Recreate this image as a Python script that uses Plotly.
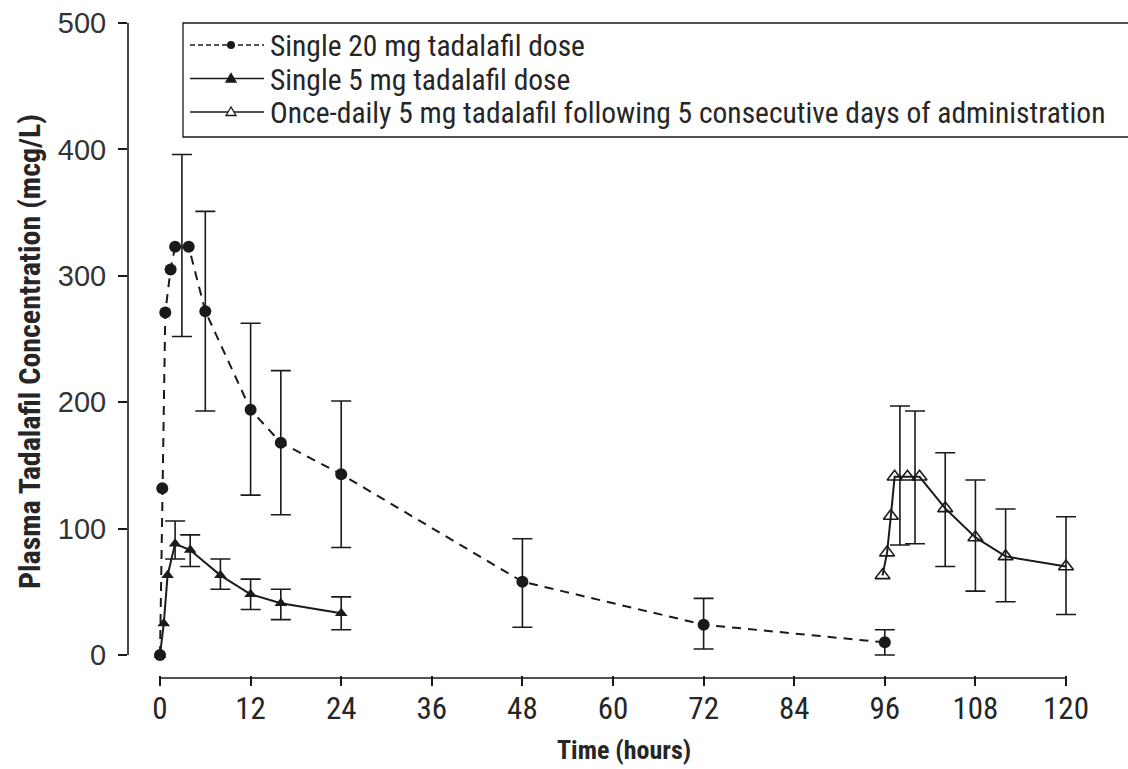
import plotly.graph_objects as go

# ---- data ----
# Single 20 mg tadalafil dose (filled circles, dashed)
t20 = [0, 0.3, 0.7, 1.4, 2, 3.8, 6, 12, 16, 24, 48, 72, 96]
c20 = [0, 132, 271, 305, 323, 323, 272, 194, 168, 143, 58, 24, 10]
err20_t = [2.9, 6, 12, 16, 24, 48, 72, 96]
err20_mean = [324, 272, 194.5, 168, 143, 57, 24.8, 10]
err20_sd = [72, 79, 68, 57, 58, 35, 20, 10]

# Single 5 mg tadalafil dose (filled triangles, solid)
t5 = [0, 0.5, 1, 2, 4, 8, 12, 16, 24]
c5 = [0, 25, 63, 88, 83, 63, 48, 41, 33]
err5_t = [2, 4, 8, 12, 16, 24]
err5_mean = [91, 82.5, 64, 48, 40, 33]
err5_sd = [15, 12.5, 12, 12, 12, 13]

# Once-daily 5 mg after 5 consecutive days (open triangles, solid)
tq = [95.7, 96.3, 96.8, 97.3, 99, 100.6, 104, 108, 112, 120]
cq = [63, 81, 110, 141, 141, 141, 116, 93, 78, 70]
errq_t = [98, 100, 104, 108, 112, 120]
errq_mean = [142, 140.5, 115, 94.5, 78.8, 70.7]
errq_sd = [55, 52.5, 45, 44, 36.7, 38.7]

x_ticks = [0, 12, 24, 36, 48, 60, 72, 84, 96, 108, 120]
y_ticks = [0, 100, 200, 300, 400, 500]

names = [
    "Single 20 mg tadalafil dose",
    "Single 5 mg tadalafil dose",
    "Once-daily 5 mg tadalafil following 5 consecutive days of administration",
]
x_title = "Time (hours)"
y_title = "Plasma Tadalafil Concentration (mcg/L)"

# ---- styling / layout ----
INK = "#1a1a1a"
TXT = "#262626"
NARROW = "Liberation Sans Narrow, Arial Narrow, Roboto Condensed, Liberation Sans, sans-serif"
W, H = 1128, 769
ML, MR, MT, MB = 128, 8, 15, 94
PW, PH = W - ML - MR, H - MT - MB


def px2x(px):
    return (px - ML) / PW


def py2y(py):
    return (H - MB - py) / PH


fig = go.Figure()


def err_trace(t, m, s):
    return go.Scatter(
        x=t, y=m, mode="markers",
        marker=dict(size=1, color="rgba(0,0,0,0)"),
        error_y=dict(type="data", array=s, visible=True, color=INK,
                     thickness=1.6, width=10),
        showlegend=False, hoverinfo="skip",
    )


fig.add_trace(err_trace(err20_t, err20_mean, err20_sd))
fig.add_trace(err_trace(err5_t, err5_mean, err5_sd))
fig.add_trace(err_trace(errq_t, errq_mean, errq_sd))

fig.add_trace(go.Scatter(
    x=t5, y=c5, mode="lines+markers", name=names[1], showlegend=False,
    line=dict(color=INK, width=2),
    marker=dict(symbol="triangle-up", size=11, color=INK),
))
fig.add_trace(go.Scatter(
    x=tq, y=cq, mode="lines+markers", name=names[2], showlegend=False,
    line=dict(color=INK, width=2),
    marker=dict(symbol="triangle-up-open", size=13, color=INK, line=dict(width=1.6)),
))
fig.add_trace(go.Scatter(
    x=t20, y=c20, mode="lines+markers", name=names[0], showlegend=False,
    line=dict(color=INK, width=2, dash="9px,7px"),
    marker=dict(symbol="circle", size=12, color=INK),
))

shapes = []
# detached axis lines
shapes.append(dict(type="line", xref="paper", yref="y", x0=0, x1=0,
                   y0=y_ticks[0], y1=y_ticks[-1], line=dict(color=INK, width=1.6)))
shapes.append(dict(type="line", xref="x", yref="paper", x0=x_ticks[0], x1=x_ticks[-1],
                   y0=py2y(678), y1=py2y(678), line=dict(color=INK, width=1.6)))

# ---- hand-drawn legend (box, sample lines, symbols, labels) ----
shapes.append(dict(type="rect", xref="paper", yref="paper",
                   x0=px2x(183), x1=px2x(1140), y0=py2y(137), y1=py2y(23),
                   line=dict(color=INK, width=1.3), fillcolor="white", layer="above"))
rows = [45, 78.5, 112]
dashes = ["5px,3px", "solid", "solid"]
annotations = []
for i, ry in enumerate(rows):
    shapes.append(dict(type="line", xref="paper", yref="paper",
                       x0=px2x(190), x1=px2x(264), y0=py2y(ry), y1=py2y(ry),
                       line=dict(color=INK, width=1.5, dash=dashes[i]), layer="above"))
    annotations.append(dict(xref="paper", yref="paper", x=px2x(268), y=py2y(ry + 1),
                            xanchor="left", yanchor="middle", showarrow=False,
                            text=names[i], font=dict(family=NARROW, size=29.5, color=TXT)))
ax, ay = px2x(231), py2y(rows[0])
shapes.append(dict(type="circle", xref="paper", yref="paper", xsizemode="pixel",
                   ysizemode="pixel", xanchor=ax, yanchor=ay, x0=-4, x1=4, y0=-4, y1=4,
                   fillcolor=INK, line=dict(color=INK, width=0), layer="above"))
for i, filled in [(1, True), (2, False)]:
    shapes.append(dict(type="path", xref="paper", yref="paper", xsizemode="pixel",
                       ysizemode="pixel", xanchor=px2x(231), yanchor=py2y(rows[i]),
                       path="M-5,-3.5 L5,-3.5 L0,5 Z",
                       fillcolor=INK if filled else "white",
                       line=dict(color=INK, width=1.3), layer="above"))

# axis titles
annotations.append(dict(xref="paper", yref="paper", x=px2x(624), y=py2y(750),
                        xanchor="center", yanchor="middle", showarrow=False,
                        text="<b>" + x_title + "</b>",
                        font=dict(family=NARROW, size=26, color=TXT)))
annotations.append(dict(xref="paper", yref="paper", x=px2x(29), y=py2y(352),
                        xanchor="center", yanchor="middle", showarrow=False, textangle=-90,
                        text="<b>" + y_title + "</b>",
                        font=dict(family=NARROW, size=30, color=TXT)))

fig.update_layout(
    width=W, height=H,
    margin=dict(l=ML, r=MR, t=MT, b=MB),
    paper_bgcolor="white", plot_bgcolor="white",
    showlegend=False,
    shapes=shapes, annotations=annotations,
    xaxis=dict(
        range=[-4.24, 127.15], tickvals=x_ticks, ticktext=[str(v) for v in x_ticks],
        showgrid=False, zeroline=False, showline=False, automargin=False,
        ticks="outside", ticklen=10, tickwidth=1.6, tickcolor=INK,
        tickfont=dict(family=NARROW, size=31, color=TXT),
        ticklabelstandoff=-4,
    ),
    yaxis=dict(
        range=[-15.82, 506.33], tickvals=y_ticks,
        showgrid=False, zeroline=False, showline=False, automargin=False,
        ticks="outside", ticklen=9, tickwidth=1.6, tickcolor=INK,
        tickfont=dict(family="Liberation Sans, Arial, sans-serif", size=29, color="#333"),
        ticklabelstandoff=6,
    ),
)

fig.write_html("out.html", config={"displayModeBar": False},
               post_script="document.body.style.margin='0px';")
